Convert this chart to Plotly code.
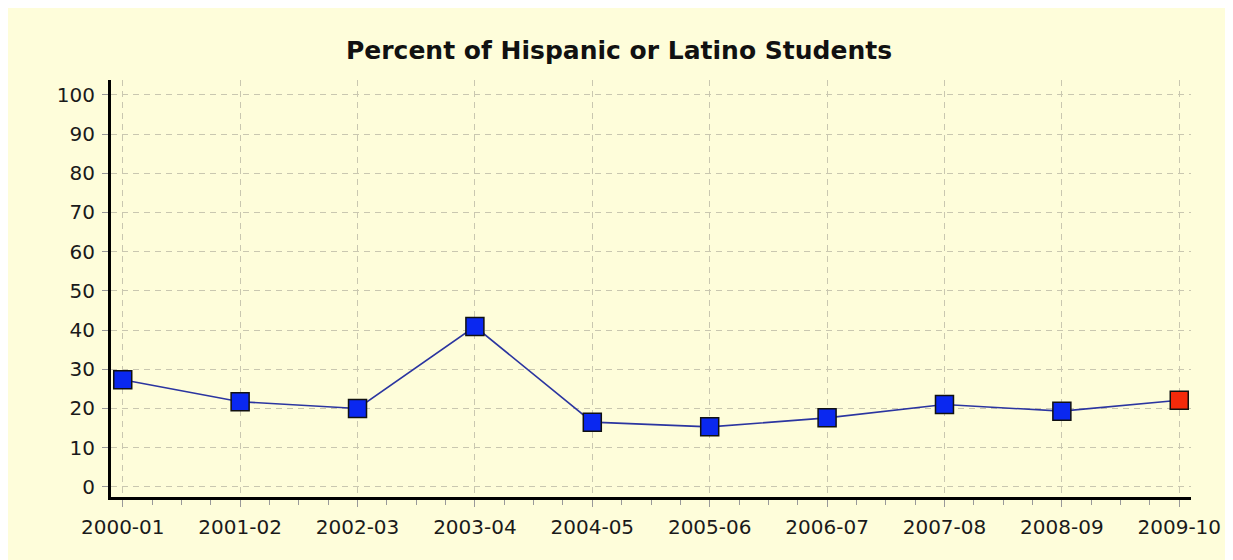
import plotly.graph_objects as go

years = ["2000-01", "2001-02", "2002-03", "2003-04", "2004-05",
         "2005-06", "2006-07", "2007-08", "2008-09", "2009-10"]
percent = [27.3, 21.7, 20.0, 40.9, 16.5, 15.3, 17.6, 21.0, 19.3, 22.1]
y_ticks = [0, 10, 20, 30, 40, 50, 60, 70, 80, 90, 100]

BG = "#FEFDDA"
x_idx = list(range(len(years)))
marker_colors = ["#0A28F0"] * (len(years) - 1) + ["#F52A0A"]

fig = go.Figure()
fig.add_trace(go.Scatter(
    x=x_idx, y=percent, mode="lines+markers",
    line=dict(color="#2B35A0", width=1.6),
    marker=dict(symbol="square", size=18, color=marker_colors,
                line=dict(color="#111111", width=1.5)),
    showlegend=False, hoverinfo="skip",
))

fig.update_layout(
    width=1225, height=552,
    paper_bgcolor=BG,
    plot_bgcolor=BG,
    margin=dict(l=103, r=40, t=72, b=63),
    title=dict(text="<b>Percent of Hispanic or Latino Students</b>",
               x=(619 - 8) / 1225, xanchor="center", y=1 - 42 / 552, yanchor="middle",
               font=dict(family="DejaVu Sans", size=25, color="#111111")),
    font=dict(family="DejaVu Sans", size=20, color="#1A1A1A"),
)

fig.update_xaxes(
    range=[-0.1, 9.1], tickvals=x_idx, ticktext=years,
    showline=True, linecolor="black", linewidth=3,
    ticks="outside", ticklen=7, tickcolor="#999999", tickwidth=1,
    ticklabelstandoff=3,
    showgrid=True, gridcolor="#C9C7B0", griddash="6px,5px", gridwidth=1,
    minor=dict(dtick=0.25, tick0=0, ticks="outside", ticklen=5,
               tickcolor="#999999", showgrid=False),
    zeroline=False, fixedrange=True,
)
fig.update_yaxes(
    range=[-2.6, 103.8], tickvals=y_ticks,
    showline=True, linecolor="black", linewidth=3,
    ticks="outside", ticklen=6, tickcolor="#999999", tickwidth=1,
    ticklabelstandoff=3,
    showgrid=True, gridcolor="#C9C7B0", griddash="6px,5px", gridwidth=1,
    zeroline=False, fixedrange=True,
)

fig.write_html("out.html")
